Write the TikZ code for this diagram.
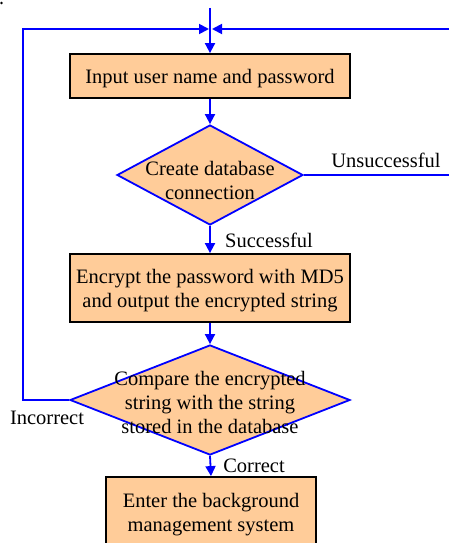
\documentclass[tikz,border=0pt]{standalone}
\usepackage{fontspec}
\setmainfont{Liberation Serif}
\usetikzlibrary{shapes.geometric,arrows.meta}
\definecolor{peach}{RGB}{255,204,153}
\definecolor{flowblue}{RGB}{0,0,255}
\begin{document}
\begin{tikzpicture}[x=1pt,y=-1pt,
  box/.style={draw=black,line width=1.8pt,fill=peach,minimum width=280pt,inner sep=0pt},
  decision/.style={diamond,draw=flowblue,line width=1.8pt,fill=peach,inner sep=0pt},
  flow/.style={draw=flowblue,line width=1.8pt,-{Triangle[length=10pt,width=10pt]}},
  txt/.style={font=\fontsize{20.5}{24}\selectfont,align=center,inner sep=0pt},
  lbl/.style={font=\fontsize{20.5}{24}\selectfont,inner sep=0pt},
]
\useasboundingbox (0,0) rectangle (449,543);

% small mark in the upper left corner
\fill (1.5,3) circle (1.3pt);

% process steps
\node[box,minimum height=44pt] (input) at (210,76) {};
\node[txt] at (210,78.5) {Input user name and password};

\node[decision,minimum width=186pt,minimum height=100pt] (conn) at (210,175) {};
\node[txt] at (210,180.5) {Create database\\connection};

\node[box,minimum height=68pt] (enc) at (210,288) {};
\node[txt] at (210,291) {Encrypt the password with MD5\\and output the encrypted string};

\node[decision,minimum width=280pt,minimum height=110pt] (cmp) at (210,400) {};
\node[txt] at (210,402) {Compare the encrypted\\string with the string\\stored in the database};

\node[box,minimum width=210pt,minimum height=84pt] (enter) at (211,519) {};
\node[txt] at (211,515) {Enter the background\\management system};

% helper points for the loops
\coordinate (start) at (210,8);
\coordinate (mergeL) at (209,29);
\coordinate (mergeR) at (212,29);
\coordinate (lc1) at (23,400);
\coordinate (lc2) at (23,29);
\coordinate (rc1) at (453,175);
\coordinate (rc2) at (453,29);

% connectors
\draw[flow] (start) -- (input.north);
\draw[flow] (input.south) -- (conn.north);
\draw[flow] (conn.south) -- (enc.north);
\draw[flow] (enc.south) -- (cmp.north);
\draw[flow] (cmp.south) -- (enter.north);
\draw[flow] (cmp.west) -- (lc1) -- (lc2) -- (mergeL);
\draw[flow] (conn.east) -- (rc1) -- (rc2) -- (mergeR);

% branch labels
\node[lbl] at (386,160) {Unsuccessful};
\node[lbl] at (269,240.5) {Successful};
\node[lbl] at (47,417.5) {Incorrect};
\node[lbl] at (254,465.5) {Correct};
\end{tikzpicture}
\end{document}
